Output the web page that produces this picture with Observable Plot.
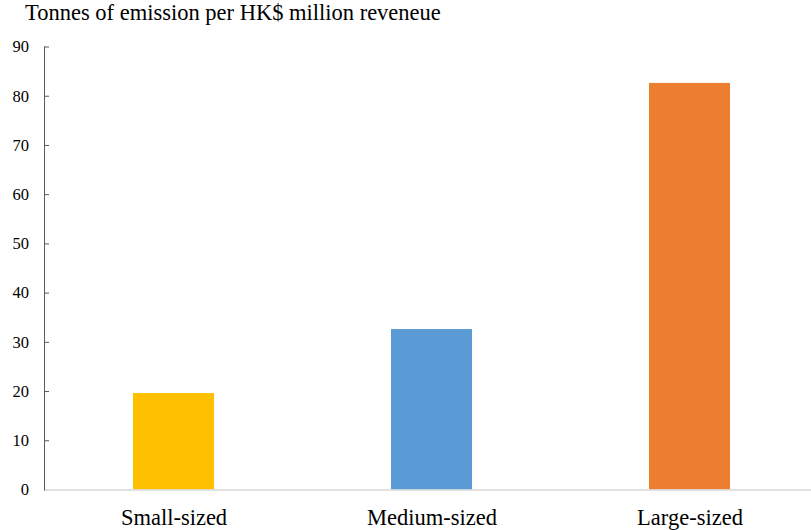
<!DOCTYPE html>
<html>
<head>
<meta charset="utf-8">
<script src="https://cdn.jsdelivr.net/npm/d3@7"></script>
<script src="https://cdn.jsdelivr.net/npm/@observablehq/plot@0.6"></script>
<style>
  body { margin: 0; background: #fff; }
  #wrap { position: relative; width: 811px; height: 530px; }
  #title { position: absolute; left: 25px; top: 2px; font-family: "Liberation Serif", "Times New Roman", serif; font-size: 22.5px; line-height: 1; color: #000; white-space: nowrap; }
  svg { display: block; }
</style>
</head>
<body>
<div id="wrap">
  <div id="chart"></div>
  <div id="title"></div>
</div>
<script>
const title = "Tonnes of emission per HK$ million reveneue";
const categories = ["Small-sized", "Medium-sized", "Large-sized"];
const values = [19.6, 32.6, 82.6];
const colors = ["#FFC000", "#5B9BD5", "#ED7D31"];
const yTicks = [0, 10, 20, 30, 40, 50, 60, 70, 80, 90];

document.getElementById("title").textContent = title;
const data = categories.map((c, i) => ({category: c, value: values[i], color: colors[i]}));

const W = 811, ML = 44;
const chart = Plot.plot({
  width: W,
  height: 530,
  marginTop: 46.5,
  marginBottom: 40.5,
  marginLeft: ML,
  marginRight: 0,
  style: {fontFamily: "'Liberation Serif', 'Times New Roman', serif", color: "#000", background: "#fff"},
  x: {domain: categories, range: [43.25, 818.75], paddingInner: 0.687, paddingOuter: 0.3435, label: null},
  y: {domain: [0, 90], label: null},
  marks: [
    Plot.barY(data, {x: "category", y: "value", fill: "color"}),
    Plot.ruleY([0], {stroke: "#d9d9d9", strokeWidth: 1.5}),
    Plot.tickY(yTicks.filter(d => d > 0), {y: d => d, stroke: "#595959", insetRight: W - ML - 5}),
    Plot.frame({anchor: "left", stroke: "#595959"}),
    Plot.axisY(yTicks, {tickSize: 0, tickPadding: 15.5, fontSize: 16.5, label: null}),
    Plot.axisX({tickSize: 0, tickPadding: 19, fontSize: 22.5, label: null})
  ]
});
document.getElementById("chart").appendChild(chart);
</script>
</body>
</html>
